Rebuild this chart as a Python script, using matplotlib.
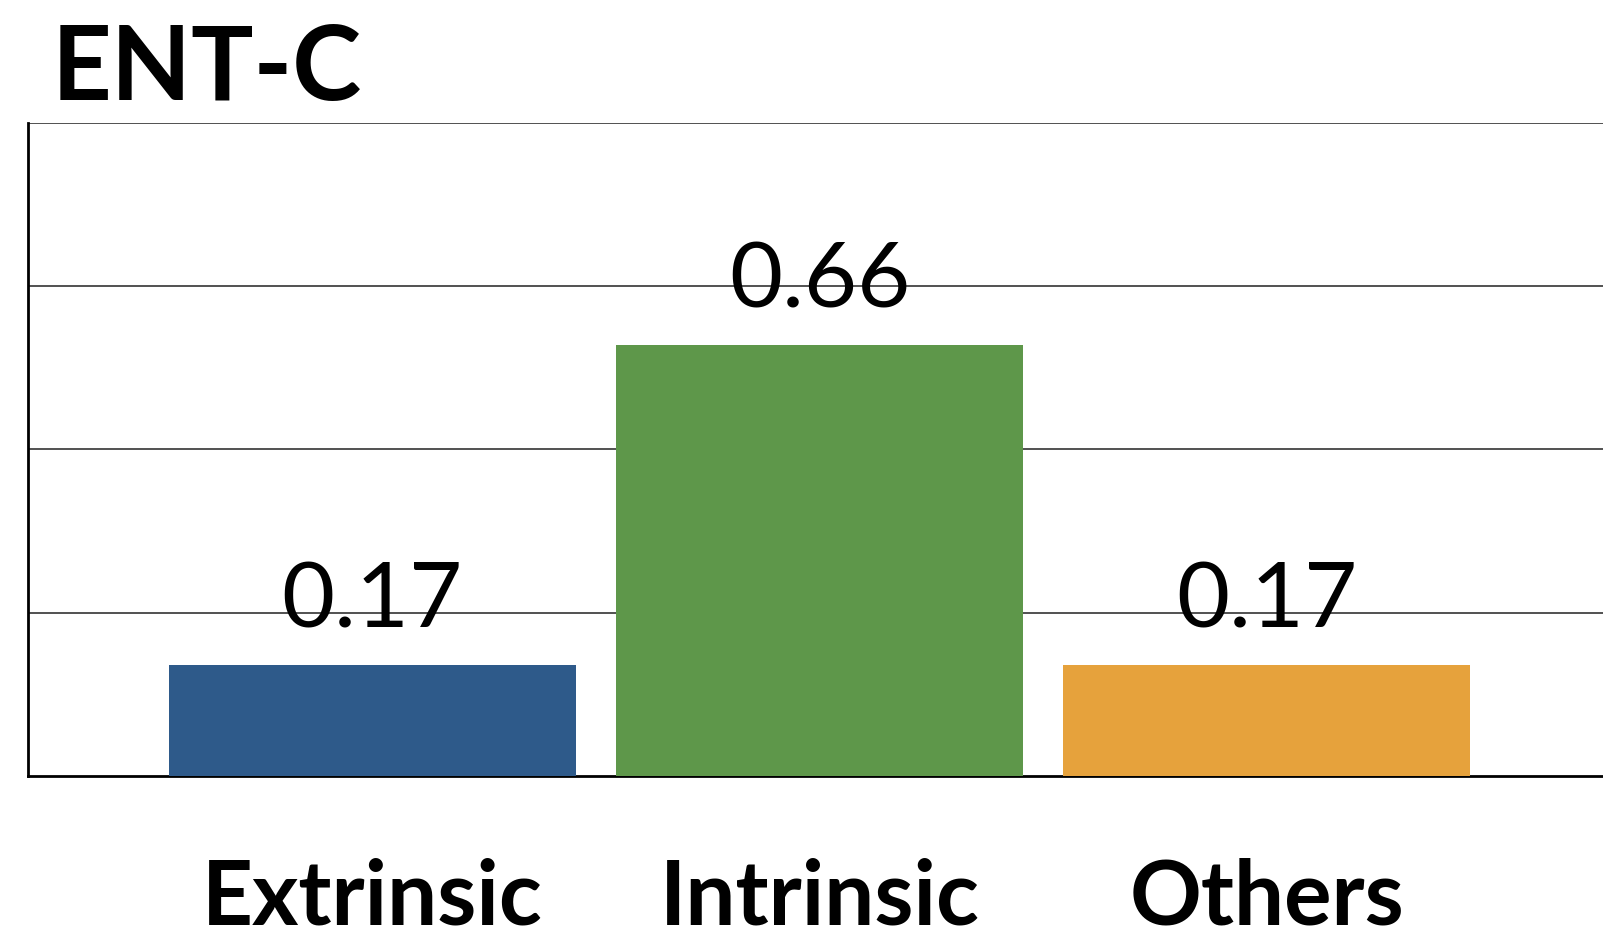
import matplotlib.pyplot as plt
from matplotlib import font_manager

categories = ['Extrinsic', 'Intrinsic', 'Others']
values = [0.17, 0.66, 0.17]
colors = ['#2E5A8A', '#5E974A', '#E6A23C']
title = 'ENT-C'

names = {f.name for f in font_manager.fontManager.ttflist}
family = 'Lato' if 'Lato' in names else 'DejaVu Sans'

fig = plt.figure(figsize=(16.03, 9.37), dpi=100)
ax = fig.add_axes([0.0175, 0.1708, 0.9875, 0.6969])

x = range(len(categories))
ax.bar(x, values, width=0.91, color=colors, zorder=3)

# etiquetas de valor encima de cada barra
for xi, v in zip(x, values):
    ax.annotate(f'{v:.2f}', (xi, v), xytext=(0, 28), textcoords='offset points',
                ha='center', va='baseline', fontsize=66, family=family,
                fontweight='normal', zorder=4)

ax.set_xlim(-0.77, 2.77)
ax.set_ylim(0, 1.0)
ax.set_yticks([0.25, 0.5, 0.75, 1.0])
ax.set_yticklabels([])
ax.tick_params(axis='y', length=0)
ax.grid(axis='y', color='#222222', linewidth=1.1, zorder=1)

ax.set_xticks(list(x))
ax.set_xticklabels(categories, fontsize=64, fontweight='bold', family=family)
ax.tick_params(axis='x', length=0, pad=58)

for side in ['top', 'right']:
    ax.spines[side].set_visible(False)
for side in ['left', 'bottom']:
    ax.spines[side].set_linewidth(2)
    ax.spines[side].set_color('black')

fig.text(0.032, 0.893, title, fontsize=75, fontweight='bold', family=family,
         ha='left', va='baseline')

fig.savefig('out.png', dpi=100)
